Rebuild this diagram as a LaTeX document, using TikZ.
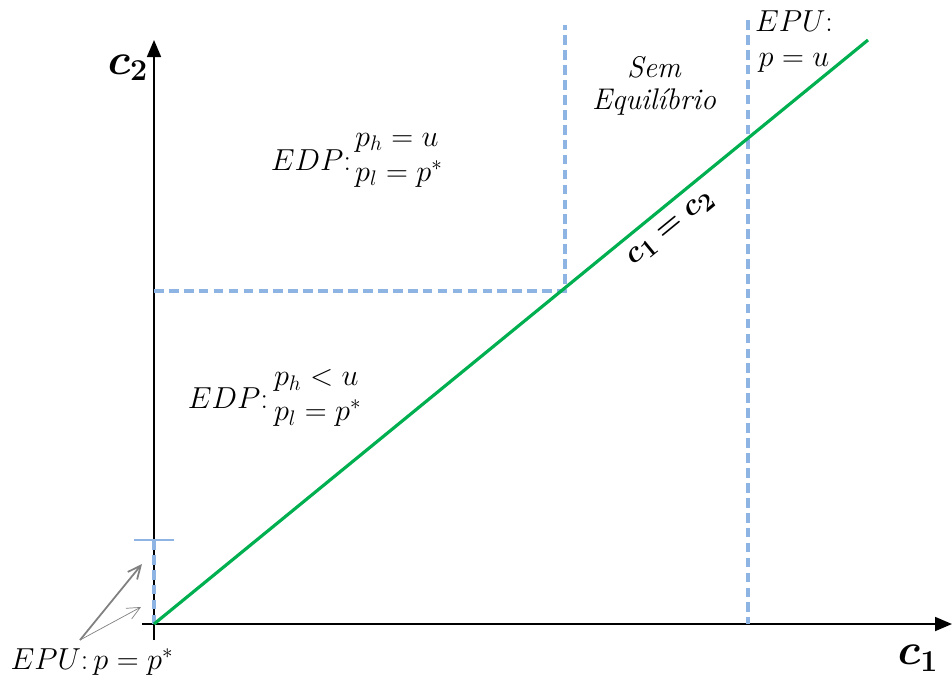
\documentclass[tikz,border=0pt]{standalone}
\usepackage{amsmath, amssymb, bm}
\usepackage{tikz}
\usetikzlibrary{arrows.meta, positioning}
\definecolor{eqgreen}{RGB}{0, 176, 80}
\definecolor{eqblue}{RGB}{141, 180, 226}
\definecolor{eqgray}{RGB}{128, 128, 128}
\tikzset{
    axis/.style={line width=1pt, -{Triangle[length=3.4mm, width=2.8mm]}},
    bound/.style={eqblue, line width=1.8pt, dash pattern=on 5.5pt off 3pt},
    diag/.style={eqgreen, line width=1.8pt},
    region/.style={font=\fontsize{17}{20}\selectfont, align=left, inner sep=0pt},
    axlabel/.style={font=\fontsize{24}{28}\selectfont, inner sep=0pt},
    pointer/.style={eqgray, -{Straight Barb[length=2.6mm, width=2.4mm]}}
}

\begin{document}
\begin{tikzpicture}[x=0.02cm, y=-0.02cm]
    \useasboundingbox (0,0) rectangle (952,680);

    % Axes
    \coordinate (O) at (154,624);
    \coordinate (xstart) at (142,624);
    \coordinate (xend) at (952,624);
    \coordinate (ystart) at (154,640);
    \coordinate (yend) at (154,40);
    \draw[axis] (xstart) -- (xend);
    \draw[axis] (ystart) -- (yend);
    \node[axlabel] (c1lab) at (918,658) {$\boldsymbol{c_1}$};
    \node[axlabel] (c2lab) at (128,68) {$\boldsymbol{c_2}$};

    % Boundaries
    \coordinate (hleft) at (154,291);
    \coordinate (corner) at (565,291);
    \coordinate (ctop) at (565,25);
    \coordinate (rtop) at (748,20);
    \coordinate (rbot) at (748,624);
    \draw[bound] (hleft) -- (corner) -- (ctop);
    \draw[bound] (rtop) -- (rbot);

    % Small interval on the c2 axis
    \coordinate (tick) at (154,540);
    \coordinate (tickl) at (134,540);
    \coordinate (tickr) at (174,540);
    \draw[eqblue, line width=1pt] (tickl) -- (tickr);
    \draw[bound] (tick) -- (O);

    % c1 = c2 line
    \coordinate (dend) at (868,40);
    \draw[diag] (O) -- (dend)
        node[pos=0.705, sloped, below=6pt, axlabel, text=black, font=\fontsize{19}{23}\selectfont] (diaglab) {$\boldsymbol{c_1 = c_2}$};

    % Regions
    \node[region] (edp1) at (311,160) {$EDP$:};
    \node[region, right=2pt of edp1] (edp1s) {$p_h = u$\\$p_l = p^*$};
    \node[region] (edp2) at (228,398) {$EDP$:};
    \node[region, right=3pt of edp2] (edp2s) {$p_h < u$\\$p_l = p^*$};
    \node[region, align=center, font=\fontsize{17}{18}\selectfont\itshape] (sem) at (654,86) {Sem\\Equilíbrio};
    \node[region, align=center, font=\fontsize{17}{20}\selectfont] (epuu) at (794,42) {$EPU$:\\$p = u$};

    % EPU at the origin
    \node[region] (epu0) at (92,662) {$EPU$:$\,p = p^*$};
    \coordinate (ptail) at (80,640);
    \coordinate (phigh) at (142,564);
    \coordinate (plow) at (141,607);
    \draw[pointer, line width=1pt] (ptail) -- (phigh);
    \draw[pointer, line width=0.4pt] (ptail) -- (plow);

\end{tikzpicture}
\end{document}
